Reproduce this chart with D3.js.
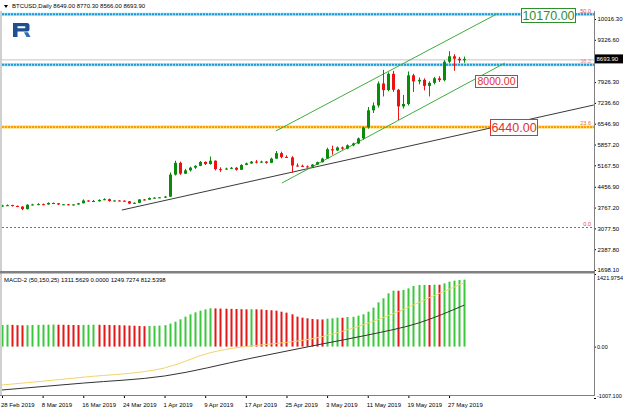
<!DOCTYPE html>
<html><head><meta charset="utf-8">
<script src="https://cdn.jsdelivr.net/npm/d3@7"></script>
<style>body{margin:0;background:#fff}svg{display:block}text{font-family:"Liberation Sans",Arial,sans-serif}</style>
</head><body><svg id="c" width="623" height="413"></svg>
<script>
// ---------- DATA ----------
const symbolTitle = "BTCUSD,Daily";
const headerValues = "8649.00 8770.30 8566.00 8693.90";
// daily candles, day 0 = 28 Feb 2019 ... day 91 = 30 May 2019
const openP = [3815,3835,3850,3820,3800,3715,3860,3870,3880,3870,3920,3910,3870,3875,3865,3870,
 3910,4000,3985,3975,4020,4045,3985,4000,3995,3975,3900,3925,4035,4030,4085,4095,
 4105,4130,4860,5250,4890,5000,5090,5150,5280,5210,5320,5040,5030,5060,5085,5020,
 5180,5230,5290,5260,5290,5250,5390,5570,5445,5430,5160,5150,5130,5120,5190,5270,
 5390,5700,5660,5760,5720,5830,5890,6060,6420,6990,7150,7880,7660,8200,7670,7120,
 7200,8150,7950,8000,7800,7900,8050,7990,8600,8780,8700,8649];
const highP = [3860,3870,3860,3835,3810,3880,3890,3915,3900,3940,3935,3920,3885,3890,3880,3920,
 4040,4010,4020,4040,4075,4065,4010,4015,4005,3985,3940,4050,4050,4100,4110,4115,
 4150,4930,5320,5290,5050,5120,5170,5310,5300,5460,5330,5100,5090,5110,5110,5200,
 5260,5310,5340,5320,5310,5420,5640,5620,5500,5470,5230,5190,5160,5210,5290,5420,
 5750,5820,5790,5790,5860,5920,6090,6450,7100,7250,7950,8330,8250,8300,7700,7500,
 8280,8200,8080,8050,7950,8100,8120,8650,8950,8850,8760,8770.3];
const lowP = [3790,3820,3800,3780,3680,3705,3840,3850,3840,3860,3890,3850,3850,3840,3840,3860,
 3905,3960,3955,3965,4010,3960,3975,3985,3960,3880,3890,3915,4010,4020,4070,4080,
 4085,4120,4830,4850,4880,4960,5050,5140,5180,5190,5000,4950,5020,5040,4990,5010,
 5170,5220,5230,5250,5220,5240,5380,5400,5410,4920,5130,5110,5090,5110,5180,5260,
 5380,5520,5640,5680,5700,5800,5870,6020,6380,6900,7080,7450,7620,7600,6670,7050,
 7150,7600,7850,7650,7450,7850,7930,7950,8550,8300,8560,8566];
const closeP = [3835,3845,3820,3800,3715,3860,3870,3880,3870,3920,3910,3870,3875,3865,3870,3910,
 4000,3985,3975,4020,4045,3985,4000,3995,3975,3900,3925,4035,4030,4085,4095,4105,
 4130,4860,5250,4890,5000,5090,5150,5280,5210,5320,5040,5030,5060,5085,5020,5180,
 5230,5290,5260,5290,5250,5390,5570,5440,5430,5160,5150,5130,5120,5190,5270,5390,
 5700,5660,5760,5720,5830,5890,6060,6420,6990,7150,7880,7660,8200,7670,7120,7200,
 8150,7950,8000,7800,7900,8050,7990,8600,8780,8700,8649,8693.9];
const bidPrice = 8693.9;
// MACD-2 (50,150,25) histogram per day, colour flag (1 rising/green, 0 falling/red)
const macdHist = [425,428,425,420,416,419,422,425,427,429,431,429,427,425,423,421,
 424,427,429,427,425,423,421,419,416,412,408,404,400,402,406,412,
 420,450,488,534,586,632,671,704,730,750,748,745,742,739,736,733,
 730,733,730,727,717,712,704,684,665,632,586,567,554,541,534,532,
 547,554,567,565,580,584,606,632,684,763,867,946,1044,1096,1094,1109,
 1141,1187,1207,1209,1207,1213,1211,1239,1272,1292,1305,1311.5629];
const macdUp = [1,1,0,0,0,1,1,1,1,1,1,0,0,0,0,0,
 1,1,1,0,0,0,0,0,0,0,0,0,0,1,1,1,
 1,1,1,1,1,1,1,1,1,1,0,0,0,0,0,0,
 0,1,0,0,0,0,0,0,0,0,0,0,0,0,0,0,
 1,1,1,0,1,1,1,1,1,1,1,1,1,1,0,1,
 1,1,1,1,0,1,0,1,1,1,1,1];
const yellowDays = [0,16,32,41,47,49,63,70,78,84,91];
const yellowVals = [-752,-600,-419,-120,-10,12,194,390,684,952,1249.7274];
const blackDays = [0,16,32,49,63,72,82,91];
const blackVals = [-850,-715,-576,-229,51,227,462,812.5398];
// fibonacci levels
const fibLevels = ["0.0","23.6","38.2","50.0"];
const fibPrices = [3106,6440,8503,10170];
// trend lines [day0, price0, day1, price1]
const channelUpper = [53.9,6304,97.6,10200];
const channelLower = [55.1,4580,99,8558];
const supportLine = [23.6,3685,116.5,7166];
// price labels
const labelTexts = ["10170.00","8000.00","6440.00"];
// axes
const priceTicks = [10016.30,9326.60,7926.30,7236.60,6546.90,5857.20,5167.50,4456.90,3767.20,3077.50,2387.80,1698.10];
const macdTicks = [1421.9754,0,-1007.1];
const macdTickLabels = ["1421.9754","0.00","-1007.100"];
const xTickDays = [0,8,16,24,32,40,48,56,64,72,80,88];
const xTickLabels = ["28 Feb 2019","8 Mar 2019","16 Mar 2019","24 Mar 2019","1 Apr 2019","9 Apr 2019","17 Apr 2019","25 Apr 2019","3 May 2019","11 May 2019","19 May 2019","27 May 2019"];

// ---------- CHART ----------
const svg = d3.select("#c");
const plotL = 2, plotR = 594, mainTop = 11, mainBot = 271, macdTop = 274, macdBot = 395;
const x = d3.scaleLinear().domain([0,116.5]).range([2,593.8]);
const y = d3.scaleLinear().domain([1698.1,10016.3]).range([270,19]);
const ym = d3.scaleLinear().domain([-1007.1,1421.9754]).range([398,274]);
const fs = 6;

svg.append("defs").append("clipPath").attr("id","cm").append("rect")
  .attr("x",plotL).attr("y",mainTop).attr("width",plotR-plotL).attr("height",mainBot-mainTop);
svg.select("defs").append("clipPath").attr("id","cd").append("rect")
  .attr("x",plotL).attr("y",macdTop).attr("width",plotR-plotL).attr("height",macdBot-macdTop);

// header
svg.append("path").attr("d","M4,5 L8,5 L6,8 Z").attr("fill","#000");
svg.append("text").attr("x",12).attr("y",8.2).attr("font-size",fs).attr("fill","#000")
  .text(symbolTitle + "  " + headerValues);

// logo
svg.append("path").attr("fill-rule","evenodd").attr("fill","#1d4f91")
  .attr("d","M13,23 H27 Q29.5,23 29.5,25.5 V29 Q29.5,31.5 27,31.5 H17.5 V37 H13 Z M17.5,26.3 H25.3 V28.3 H17.5 Z");
svg.append("path").attr("fill","#2f6db5").attr("d","M24,32.3 H28 L30.5,37 H26.5 Z");

const gm = svg.append("g").attr("clip-path","url(#cm)");

// fib lines
fibPrices.forEach((p,i)=>{
  const yy = y(p);
  if (fibLevels[i]==="0.0") {
    gm.append("line").attr("x1",plotL).attr("x2",plotR).attr("y1",yy).attr("y2",yy)
      .attr("stroke","#e04848").attr("stroke-width",1).attr("stroke-dasharray","2,2");
  } else if (fibLevels[i]==="23.6") {
    gm.append("line").attr("x1",plotL).attr("x2",plotR).attr("y1",yy).attr("y2",yy)
      .attr("stroke","#ffd45a").attr("stroke-width",3);
    gm.append("line").attr("x1",plotL).attr("x2",plotR).attr("y1",yy).attr("y2",yy)
      .attr("stroke","#ff9c00").attr("stroke-width",2).attr("stroke-dasharray","2,1");
  } else {
    gm.append("line").attr("x1",plotL).attr("x2",plotR).attr("y1",yy).attr("y2",yy)
      .attr("stroke","#9ddcf6").attr("stroke-width",3);
    gm.append("line").attr("x1",plotL).attr("x2",plotR).attr("y1",yy).attr("y2",yy)
      .attr("stroke","#1f9ad4").attr("stroke-width",2).attr("stroke-dasharray","2,1");
  }
});
const fibColors = {"0.0":"#e04848","23.6":"#e8703a","38.2":"#e09090","50.0":"#e04848"};
fibPrices.forEach((p,i)=>{
  svg.append("text").attr("x",591).attr("y",y(p)-1.5).attr("text-anchor","end")
    .attr("font-size",5.5).attr("fill",fibColors[fibLevels[i]]).text(fibLevels[i]);
});
// bid line
gm.append("line").attr("x1",plotL).attr("x2",plotR).attr("y1",y(bidPrice)+1).attr("y2",y(bidPrice)+1)
  .attr("stroke","#c4c4c4").attr("stroke-width",1);

// trend lines
function tl(arr,color){
  gm.append("line").attr("x1",x(arr[0])).attr("y1",y(arr[1])).attr("x2",x(arr[2])).attr("y2",y(arr[3]))
    .attr("stroke",color).attr("stroke-width",1);
}
tl(supportLine,"#3a3a3a");
tl(channelUpper,"#3dae3d");
tl(channelLower,"#3dae3d");

// candles
const idx = d3.range(closeP.length);
const up = i => closeP[i] >= openP[i];
const cg = "#0b8a0b", cr = "#ee1111";
gm.selectAll("line.w").data(idx).join("line").attr("class","w")
  .attr("x1",i=>Math.round(x(i))+0.5).attr("x2",i=>Math.round(x(i))+0.5)
  .attr("y1",i=>y(highP[i])).attr("y2",i=>y(lowP[i]))
  .attr("stroke",i=>up(i)?cg:cr).attr("stroke-width",1);
gm.selectAll("rect.b").data(idx).join("rect").attr("class","b")
  .attr("x",i=>Math.round(x(i))-1).attr("width",3)
  .attr("y",i=>y(Math.max(openP[i],closeP[i])))
  .attr("height",i=>Math.max(1,Math.abs(y(openP[i])-y(closeP[i]))))
  .attr("fill",i=>up(i)?cg:cr);

// price labels
function plabel(txt, bx, by, bw, bh, size, color){
  svg.append("rect").attr("x",bx).attr("y",by).attr("width",bw).attr("height",bh)
    .attr("fill","#fff").attr("stroke",color).attr("stroke-width",1);
  svg.append("text").attr("x",bx+bw/2).attr("y",by+bh/2+size*0.36).attr("text-anchor","middle")
    .attr("font-size",size).attr("fill",color).text(txt);
}
plabel(labelTexts[0],521.5,8.5,54,14,12.5,"#2f8f2f");
plabel(labelTexts[1],475.5,75.5,42,12,10.5,"#e03030");
plabel(labelTexts[2],490.5,119.5,47,16,12.5,"#e03030");

// right axis main
const ax = svg.append("g").attr("transform",`translate(${plotR},0)`)
  .call(d3.axisRight(y).tickValues(priceTicks).tickFormat(d3.format(".2f")).tickSize(2).tickPadding(1.5));
ax.select(".domain").remove();
ax.selectAll("text").attr("font-size",fs).attr("font-family","Liberation Sans").attr("fill","#000");
ax.selectAll("line").attr("stroke","#000");
// bid box
svg.append("rect").attr("x",plotR).attr("y",y(bidPrice)-4.5).attr("width",29).attr("height",9).attr("fill","#000");
svg.append("text").attr("x",plotR+2.5).attr("y",y(bidPrice)+2.2).attr("font-size",fs).attr("fill","#fff")
  .text(d3.format(".2f")(bidPrice));

// MACD panel
const gd = svg.append("g").attr("clip-path","url(#cd)");
gd.selectAll("rect.h").data(idx).join("rect").attr("class","h")
  .attr("x",i=>Math.round(x(i))-0.5).attr("width",2)
  .attr("y",i=>ym(Math.max(0,macdHist[i])))
  .attr("height",i=>Math.abs(ym(macdHist[i])-ym(0)))
  .attr("fill",i=>macdUp[i]?"#3cc83c":"#e41818");
const lineGen = d3.line().x(d=>x(d[0])).y(d=>ym(d[1])).curve(d3.curveMonotoneX);
gd.append("path").attr("d",lineGen(yellowDays.map((d,i)=>[d,yellowVals[i]])))
  .attr("fill","none").attr("stroke","#f3d36b").attr("stroke-width",1);
gd.append("path").attr("d",lineGen(blackDays.map((d,i)=>[d,blackVals[i]])))
  .attr("fill","none").attr("stroke","#333").attr("stroke-width",1);
svg.append("text").attr("x",4).attr("y",281.5).attr("font-size",fs).attr("fill","#000")
  .text("MACD-2 (50,150,25) 1311.5629 0.0000 1249.7274 812.5398");
const am = svg.append("g").attr("transform",`translate(${plotR},0)`)
  .call(d3.axisRight(ym).tickValues(macdTicks).tickFormat((d,i)=>macdTickLabels[i]).tickSize(2).tickPadding(1));
am.select(".domain").remove();
am.selectAll("text").attr("font-size",5.5).attr("font-family","Liberation Sans").attr("fill","#000")
  .attr("dy",(d,i)=> i===0 ? "1.05em" : (i===2 ? "-0.1em" : "0.32em"));
am.selectAll("line").attr("stroke","#000");

// x axis
const xa = svg.append("g").attr("transform",`translate(0,${macdBot})`)
  .call(d3.axisBottom(x).tickValues(xTickDays).tickFormat((d,i)=>xTickLabels[i]).tickSize(3).tickPadding(5));
xa.select(".domain").remove();
xa.selectAll("text").attr("font-size",fs).attr("font-family","Liberation Sans").attr("fill","#000")
  .attr("text-anchor","start").attr("dx",-1.5);
xa.selectAll("line").attr("stroke","#000");

// frames
svg.append("line").attr("x1",1).attr("x2",1).attr("y1",11).attr("y2",macdBot).attr("stroke","#a0a0a0");
svg.append("line").attr("x1",plotR+0.5).attr("x2",plotR+0.5).attr("y1",11).attr("y2",macdBot).attr("stroke","#808080");
svg.append("rect").attr("x",0).attr("y",271).attr("width",plotR+1).attr("height",2.5).attr("fill","#808080");
svg.append("line").attr("x1",0).attr("x2",plotR+1).attr("y1",macdBot+0.5).attr("y2",macdBot+0.5).attr("stroke","#808080");
</script></body></html>
